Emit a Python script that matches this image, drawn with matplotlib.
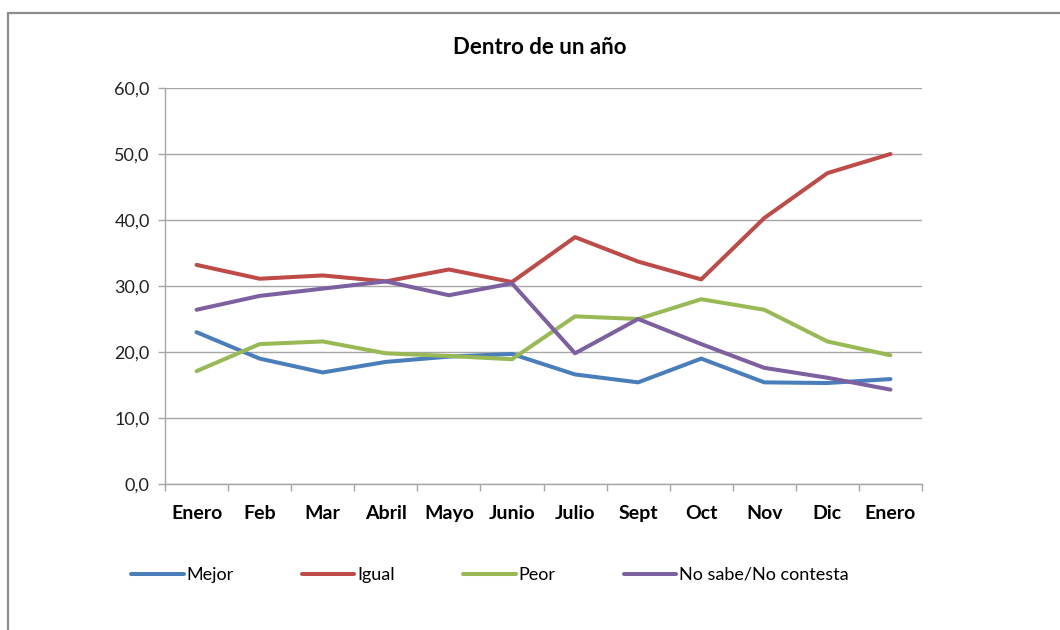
import numpy as np
import matplotlib.pyplot as plt
from matplotlib.patches import Rectangle

# months on the x axis
months = ['Enero', 'Feb', 'Mar', 'Abril', 'Mayo', 'Junio', 'Julio', 'Sept', 'Oct', 'Nov', 'Dic', 'Enero']

# values
mejor = [23.0, 19.0, 16.9, 18.5, 19.3, 19.7, 16.6, 15.4, 19.0, 15.4, 15.3, 15.9]
igual = [33.2, 31.1, 31.6, 30.7, 32.5, 30.6, 37.4, 33.7, 31.0, 40.3, 47.1, 50.0]
peor = [17.1, 21.2, 21.6, 19.8, 19.4, 18.9, 25.4, 25.0, 28.0, 26.4, 21.6, 19.5]
no_sabe = [26.4, 28.5, 29.6, 30.7, 28.6, 30.4, 19.8, 25.0, 21.2, 17.6, 16.1, 14.3]

plt.rcParams['font.family'] = ['Lato', 'DejaVu Sans']

fig = plt.figure(figsize=(10.6, 6.3), dpi=100)
ax = fig.add_axes([165 / 1060, 1 - 484 / 630, (922 - 165) / 1060, (484 - 88) / 630])

x = np.arange(len(months))
ax.plot(x, mejor, color='#4a7ebb', lw=2.9, label='Mejor', solid_capstyle='round')
ax.plot(x, igual, color='#be4b48', lw=2.9, label='Igual', solid_capstyle='round')
ax.plot(x, peor, color='#98b954', lw=2.9, label='Peor', solid_capstyle='round')
ax.plot(x, no_sabe, color='#7d60a0', lw=2.9, label='No sabe/No contesta', solid_capstyle='round')

ax.set_xlim(-0.5, len(months) - 0.5)
ax.set_ylim(0, 60)
ax.set_yticks(np.arange(0, 61, 10))
ax.set_yticklabels([f'{v:.1f}'.replace('.', ',') for v in np.arange(0, 61, 10)], fontsize=13, color='#222222')
ax.yaxis.grid(True, color='#a6a6a6', lw=1)
ax.set_axisbelow(True)

# category labels in the middle, tick marks at the boundaries
ax.set_xticks(x)
ax.set_xticklabels(months, fontsize=14, fontweight='bold')
ax.tick_params(axis='x', which='major', length=0, pad=15)
ax.set_xticks(np.arange(-0.5, len(months), 1), minor=True)
ax.tick_params(axis='x', which='minor', length=5, color='#a6a6a6', width=1)
ax.tick_params(axis='y', length=5, color='#a6a6a6', width=1, pad=6)

for s in ['top', 'right']:
    ax.spines[s].set_visible(False)
for s in ['left', 'bottom']:
    ax.spines[s].set_color('#a6a6a6')
    ax.spines[s].set_linewidth(1)

fig.text(540 / 1060, 1 - 48 / 630, 'Dentro de un año', ha='center', va='center', fontsize=16, fontweight='bold')

fig.legend(loc='center', bbox_to_anchor=(490 / 1060, 1 - 575 / 630), ncol=4, frameon=False,
           fontsize=13, handlelength=2.9, handletextpad=0.15, columnspacing=3.8)

# outer chart frame
fig.patches.append(Rectangle((8 / 1060, -0.1), 1.2, 1 - 13 / 630 + 0.1, transform=fig.transFigure,
                             fill=False, edgecolor='#8c8c8c', lw=1.6))

fig.savefig('out.png', dpi=100)
